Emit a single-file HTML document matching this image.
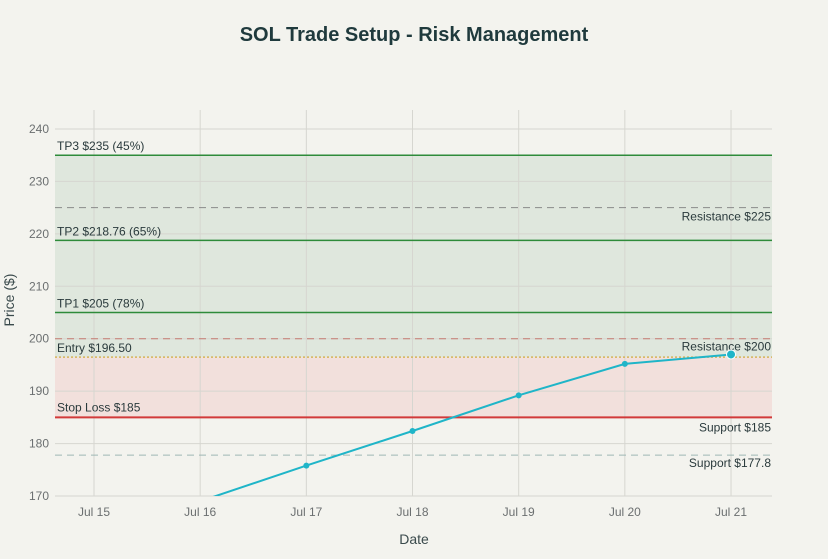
<!DOCTYPE html>
<html><head><meta charset="utf-8"><style>
body{margin:0;background:#f3f3ee;font-family:"Liberation Sans",sans-serif;}
svg text{font-family:"Liberation Sans",sans-serif;}
</style></head><body>
<svg id="c" width="828" height="554">
<rect width="828" height="554" fill="#f3f3ee"/>
<text x="414" y="41" text-anchor="middle" font-size="20" font-weight="bold" fill="#1f3a3d">SOL Trade Setup - Risk Management</text>
<text x="414" y="544" text-anchor="middle" font-size="14" fill="#3a4a4c">Date</text>
<text transform="translate(14,300) rotate(-90)" text-anchor="middle" font-size="14" fill="#3a4a4c">Price ($)</text>
<g id="g"></g>
</svg>
<script>
const dates=["Jul 15","Jul 16","Jul 17","Jul 18","Jul 19","Jul 20","Jul 21"];
const priceDays=[1,2,3,4,5,6];
const prices=[169,175.8,182.4,189.2,195.2,197];
const yTicks=[170,180,190,200,210,220,230,240];
const targets=[235,218.76,205];
const targetLabels=["TP3 $235 (45%)","TP2 $218.76 (65%)","TP1 $205 (78%)"];
const entry=196.5, stop=185;
const resist=[225,200], support=[185,177.8];
const L=55,R=772,T=110,B=496;
const X=d=>94+d*106.17;
const Y=v=>129+(240-v)*5.243;
const ns="http://www.w3.org/2000/svg",g=document.getElementById('g');
function el(t,a,p){const e=document.createElementNS(ns,t);for(const k in a)e.setAttribute(k,a[k]);(p||g).appendChild(e);return e;}
let e;
e=el('rect',{x:L,y:Y(targets[0]),width:R-L,height:Y(entry)-Y(targets[0]),fill:'#dfe7dd'});

e=el('rect',{x:L,y:Y(entry),width:R-L,height:Y(stop)-Y(entry),fill:'#f2e0dc'});

yTicks.forEach(v=>{
 e=el('line',{x1:L,x2:R,y1:Y(v),y2:Y(v),stroke:'#d6d6d0','stroke-width':1});
 
 e=el('text',{x:L-6,y:Y(v)+4,'text-anchor':'end','font-size':12,fill:'#6b6f70'});e.textContent=v;
 
});
dates.forEach((d,i)=>{
 e=el('line',{x1:X(i),x2:X(i),y1:T,y2:B,stroke:'#d6d6d0','stroke-width':1});
 
 e=el('text',{x:X(i),y:516,'text-anchor':'middle','font-size':12,fill:'#6b6f70'});e.textContent=d;
 
});
targets.forEach((v,i)=>{
 e=el('line',{x1:L,x2:R,y1:Y(v),y2:Y(v),stroke:'#2e8b3a','stroke-width':1.5});
 
 e=el('text',{x:L+2,y:Y(v)-5,'font-size':12,fill:'#2a3a3c'});e.textContent=targetLabels[i];
 
});
e=el('line',{x1:L,x2:R,y1:Y(resist[0]),y2:Y(resist[0]),stroke:'#8a8a8a','stroke-dasharray':'7,5'});

e=el('text',{x:R-1,y:Y(resist[0])+13,'text-anchor':'end','font-size':12,fill:'#2a3a3c'});e.textContent='Resistance $225';

e=el('line',{x1:L,x2:R,y1:Y(resist[1]),y2:Y(resist[1]),stroke:'#c47a70','stroke-dasharray':'7,5'});

e=el('text',{x:R-1,y:Y(resist[1])+12,'text-anchor':'end','font-size':12,fill:'#2a3a3c'});e.textContent='Resistance $200';

e=el('line',{x1:L,x2:R,y1:Y(entry),y2:Y(entry),stroke:'#d4b45a','stroke-width':1.5,'stroke-dasharray':'2,2'});

e=el('text',{x:L+2,y:Y(entry)-5,'font-size':12,fill:'#2a3a3c'});e.textContent='Entry $196.50';

e=el('line',{x1:L,x2:R,y1:Y(stop),y2:Y(stop),stroke:'#d23a3a','stroke-width':2});

e=el('text',{x:L+2,y:Y(stop)-6,'font-size':12,fill:'#2a3a3c'});e.textContent='Stop Loss $185';

e=el('text',{x:R-1,y:Y(support[0])+14,'text-anchor':'end','font-size':12,fill:'#2a3a3c'});e.textContent='Support $185';

e=el('line',{x1:L,x2:R,y1:Y(support[1]),y2:Y(support[1]),stroke:'#9fb8b5','stroke-dasharray':'7,5'});

e=el('text',{x:R-1,y:Y(support[1])+12,'text-anchor':'end','font-size':12,fill:'#2a3a3c'});e.textContent='Support $177.8';

const cp=el('clipPath',{id:'clip'});el('rect',{x:L,y:T,width:R-L,height:B-T},cp);
const pts=priceDays.map((d,i)=>X(d)+','+Y(prices[i])).join(' ');
e=el('polyline',{points:pts,fill:'none',stroke:'#1fb5c8','stroke-width':2,'clip-path':'url(#clip)'});

priceDays.forEach((d,i)=>{
 if(prices[i]<170)return;
 const last=i===prices.length-1;
 e=el('circle',{cx:X(d),cy:Y(prices[i]),r:last?4.5:3,fill:'#1fb5c8',stroke:last?'#fff':'none','stroke-width':1});
 
});
</script>
</body></html>
